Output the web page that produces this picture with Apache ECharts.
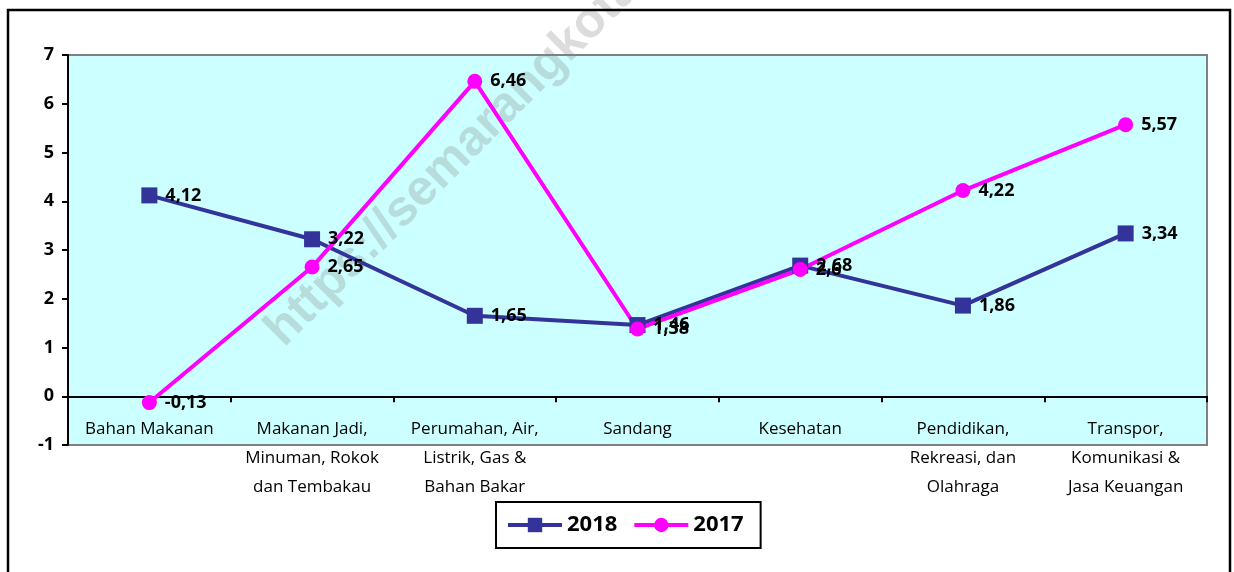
<!DOCTYPE html>
<html>
<head>
<meta charset="utf-8">
<script src="https://cdn.jsdelivr.net/npm/echarts@6/dist/echarts.min.js"></script>
<style>
html,body{margin:0;padding:0;background:#fff;}
#c{width:1234px;height:572px;}
</style>
</head>
<body>
<div id="c"></div>
<script>
const categories = [
  'Bahan Makanan',
  'Makanan Jadi,\nMinuman, Rokok\ndan Tembakau',
  'Perumahan, Air,\nListrik, Gas &\nBahan Bakar',
  'Sandang',
  'Kesehatan',
  'Pendidikan,\nRekreasi, dan\nOlahraga',
  'Transpor,\nKomunikasi &\nJasa Keuangan'
];
const values2018 = [4.12, 3.22, 1.65, 1.46, 2.68, 1.86, 3.34];
const values2017 = [-0.13, 2.65, 6.46, 1.38, 2.6, 4.22, 5.57];
const yTicks = [-1, 0, 1, 2, 3, 4, 5, 6, 7];

const FONT = '"Open Sans"';
const chart = echarts.init(document.getElementById('c'));
const fmt = p => String(p.value).replace('.', ',');
const labelStyle = {
  show: true, position: 'right', distance: 8,
  fontFamily: FONT, fontWeight: 'bold', fontSize: 18, color: '#000',
  formatter: fmt
};
chart.setOption({
  animation: false,
  graphic: [
    {
      type: 'rect', z: 100, silent: true,
      shape: {x: 8, y: 10, width: 1222, height: 580},
      style: {fill: 'none', stroke: '#000', lineWidth: 2.5}
    },
    {
      type: 'text', z: 1, silent: true,
      x: 292, y: 356, rotation: Math.PI / 4,
      style: {
        text: 'https://semarangkota.bps.go.id',
        font: 'bold 50px "Liberation Sans"',
        fill: 'rgba(128,128,128,0.28)',
        textVerticalAlign: 'bottom'
      }
    }
  ],
  grid: {
    left: 68, right: 27, top: 55, bottom: 127,
    show: true, backgroundColor: '#CCFFFF', borderColor: '#808080', borderWidth: 2
  },
  legend: {
    left: 496, top: 502,
    data: ['2018', '2017'],
    borderColor: '#000', borderWidth: 2,
    padding: [12, 17, 12, 10],
    itemWidth: 54, itemHeight: 18, itemGap: 15,
    lineStyle: {width: 4},
    textStyle: {fontFamily: FONT, fontWeight: 'bold', fontSize: 22, color: '#000'}
  },
  xAxis: {
    type: 'category', data: categories, boundaryGap: true,
    axisLine: {onZero: true, lineStyle: {color: '#000', width: 2}},
    axisTick: {show: true, length: 6, lineStyle: {color: '#000', width: 2}},
    axisLabel: {
      interval: 0, margin: -30, fontFamily: FONT, fontSize: 17,
      lineHeight: 29, color: '#000'
    }
  },
  yAxis: {
    type: 'value', min: yTicks[0], max: yTicks[yTicks.length - 1], interval: 1,
    splitLine: {show: false},
    axisLine: {show: true, lineStyle: {color: '#000', width: 2}},
    axisTick: {show: true, length: 6, lineStyle: {color: '#000', width: 2}},
    axisLabel: {margin: 14, fontFamily: FONT, fontWeight: 'bold', fontSize: 18, color: '#000'}
  },
  series: [
    {
      name: '2018', type: 'line', data: values2018,
      symbol: 'rect', symbolSize: 16,
      lineStyle: {color: '#333399', width: 4},
      itemStyle: {color: '#333399'},
      label: labelStyle
    },
    {
      name: '2017', type: 'line', data: values2017,
      symbol: 'circle', symbolSize: 15,
      lineStyle: {color: '#FF00FF', width: 4},
      itemStyle: {color: '#FF00FF'},
      label: labelStyle
    }
  ]
});
</script>
</body>
</html>
